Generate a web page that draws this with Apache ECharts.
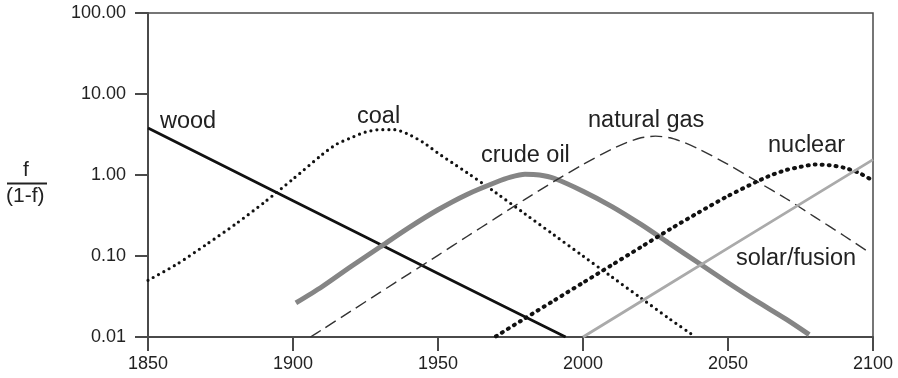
<!DOCTYPE html>
<html>
<head>
<meta charset="utf-8">
<title>Primary energy substitution</title>
<script src="https://cdn.jsdelivr.net/npm/echarts@6/dist/echarts.min.js"></script>
<style>
  html, body { margin: 0; padding: 0; background: #fff; }
  #chart { width: 898px; height: 378px; }
</style>
</head>
<body>
<div id="chart"></div>
<script>
// Market share ratio f/(1-f) of each primary energy source, by year
const wood = [[1850, 3.8], [1900, 0.48], [1950, 0.061], [1994, 0.01]];

const coal = [
  [1850, 0.0501], [1860, 0.0794], [1870, 0.138], [1880, 0.245], [1890, 0.457],
  [1900, 0.891], [1910, 1.78], [1915, 2.40], [1920, 2.88], [1925, 3.39],
  [1930, 3.63], [1935, 3.63], [1940, 3.16], [1945, 2.51], [1950, 1.86],
  [1955, 1.41], [1960, 1.07], [1970, 0.603], [1980, 0.331], [1990, 0.182],
  [2000, 0.100], [2010, 0.0550], [2020, 0.0302], [2030, 0.0166], [2038, 0.0105]
];

const crudeOil = [
  [1901, 0.0263], [1910, 0.0417], [1920, 0.0741], [1930, 0.129], [1940, 0.224],
  [1950, 0.372], [1960, 0.575], [1970, 0.813], [1975, 0.94], [1980, 1.02],
  [1985, 1.00], [1990, 0.912], [2000, 0.631], [2010, 0.407], [2020, 0.245],
  [2030, 0.141], [2040, 0.0813], [2050, 0.0468], [2060, 0.0275], [2070, 0.0166],
  [2078, 0.0107]
];

const naturalGas = [
  [1906, 0.0100], [1910, 0.0123], [1920, 0.0209], [1930, 0.0355], [1940, 0.0603],
  [1950, 0.102], [1960, 0.174], [1970, 0.295], [1980, 0.501], [1990, 0.832],
  [2000, 1.35], [2010, 2.09], [2015, 2.51], [2020, 2.88], [2025, 3.02],
  [2030, 2.88], [2035, 2.51], [2040, 2.09], [2050, 1.35], [2060, 0.832],
  [2070, 0.513], [2080, 0.302], [2090, 0.178], [2098, 0.115]
];

const nuclear = [
  [1970, 0.0102], [1980, 0.0170], [1990, 0.0282], [2000, 0.0468], [2010, 0.0776],
  [2020, 0.129], [2030, 0.214], [2040, 0.347], [2050, 0.550], [2060, 0.832],
  [2065, 1.00], [2070, 1.15], [2075, 1.26], [2080, 1.35], [2085, 1.32],
  [2090, 1.23], [2095, 1.07], [2100, 0.851]
];

const solarFusion = [[2000, 0.0100], [2050, 0.125], [2100, 1.55]];

const yearTicks = [1850, 1900, 1950, 2000, 2050, 2100];
const ratioTicks = [0.01, 0.1, 1, 10, 100];

const FONT = '"Liberation Sans", Arial, Helvetica, sans-serif';
const INK = '#222';
const AXIS = '#4a4a4a';

const chart = echarts.init(document.getElementById('chart'), null, { renderer: 'canvas' });

function lineSeries(name, data, lineStyle) {
  return {
    name: name,
    type: 'line',
    data: data,
    showSymbol: false,
    smooth: 0.25,
    silent: true,
    lineStyle: Object.assign({ join: 'round' }, lineStyle),
    z: 3
  };
}

function seriesLabel(text, x, y) {
  return {
    type: 'text',
    left: x,
    top: y,
    style: { text: text, font: '23.5px ' + FONT, fill: INK },
    silent: true
  };
}

chart.setOption({
  animation: false,
  backgroundColor: '#fff',
  grid: {
    left: 148, right: 25, top: 13, bottom: 41,
    show: true, borderColor: AXIS, borderWidth: 1.5, backgroundColor: 'transparent'
  },
  xAxis: {
    type: 'value',
    min: yearTicks[0],
    max: yearTicks[yearTicks.length - 1],
    interval: 50,
    axisLine: { lineStyle: { color: AXIS, width: 2 } },
    axisTick: { length: 14, lineStyle: { color: AXIS, width: 2 } },
    axisLabel: {
      color: INK, fontSize: 18, fontFamily: FONT, margin: 18,
      formatter: function (v) { return String(v); }
    },
    splitLine: { show: false }
  },
  yAxis: {
    type: 'log',
    logBase: 10,
    min: ratioTicks[0],
    max: ratioTicks[ratioTicks.length - 1],
    axisLine: { show: true, lineStyle: { color: AXIS, width: 2 } },
    axisTick: { show: true, length: 13, lineStyle: { color: AXIS, width: 2 } },
    axisLabel: {
      color: INK, fontSize: 18, fontFamily: FONT, margin: 22,
      formatter: function (v) { return Number(v).toFixed(2); }
    },
    splitLine: { show: false },
    minorTick: { show: false }
  },
  series: [
    lineSeries('wood', wood, { color: '#111', width: 2.8, type: 'solid' }),
    lineSeries('coal', coal, { color: '#111', width: 3.2, type: [0, 6], cap: 'round' }),
    lineSeries('crude oil', crudeOil, { color: '#858585', width: 5, type: 'solid' }),
    lineSeries('natural gas', naturalGas, { color: '#333', width: 1.4, type: [12, 6] }),
    lineSeries('nuclear', nuclear, { color: '#111', width: 4, type: [1, 6], cap: 'round' }),
    lineSeries('solar/fusion', solarFusion, { color: '#aaaaaa', width: 2.8, type: 'solid' })
  ],
  graphic: [
    // y-axis title as a fraction
    { type: 'text', left: 23, top: 160, style: { text: 'f', font: '21px ' + FONT, fill: INK }, silent: true },
    { type: 'line', shape: { x1: 7, y1: 183.5, x2: 47, y2: 183.5 }, style: { stroke: INK, lineWidth: 2 }, silent: true },
    { type: 'text', left: 6, top: 186, style: { text: '(1-f)', font: '21px ' + FONT, fill: INK }, silent: true },
    // series names
    seriesLabel('wood', 160, 110),
    seriesLabel('coal', 357, 105),
    seriesLabel('crude oil', 481, 144),
    seriesLabel('natural gas', 588, 109),
    seriesLabel('nuclear', 768, 134),
    seriesLabel('solar/fusion', 736, 247)
  ]
});
</script>
</body>
</html>
